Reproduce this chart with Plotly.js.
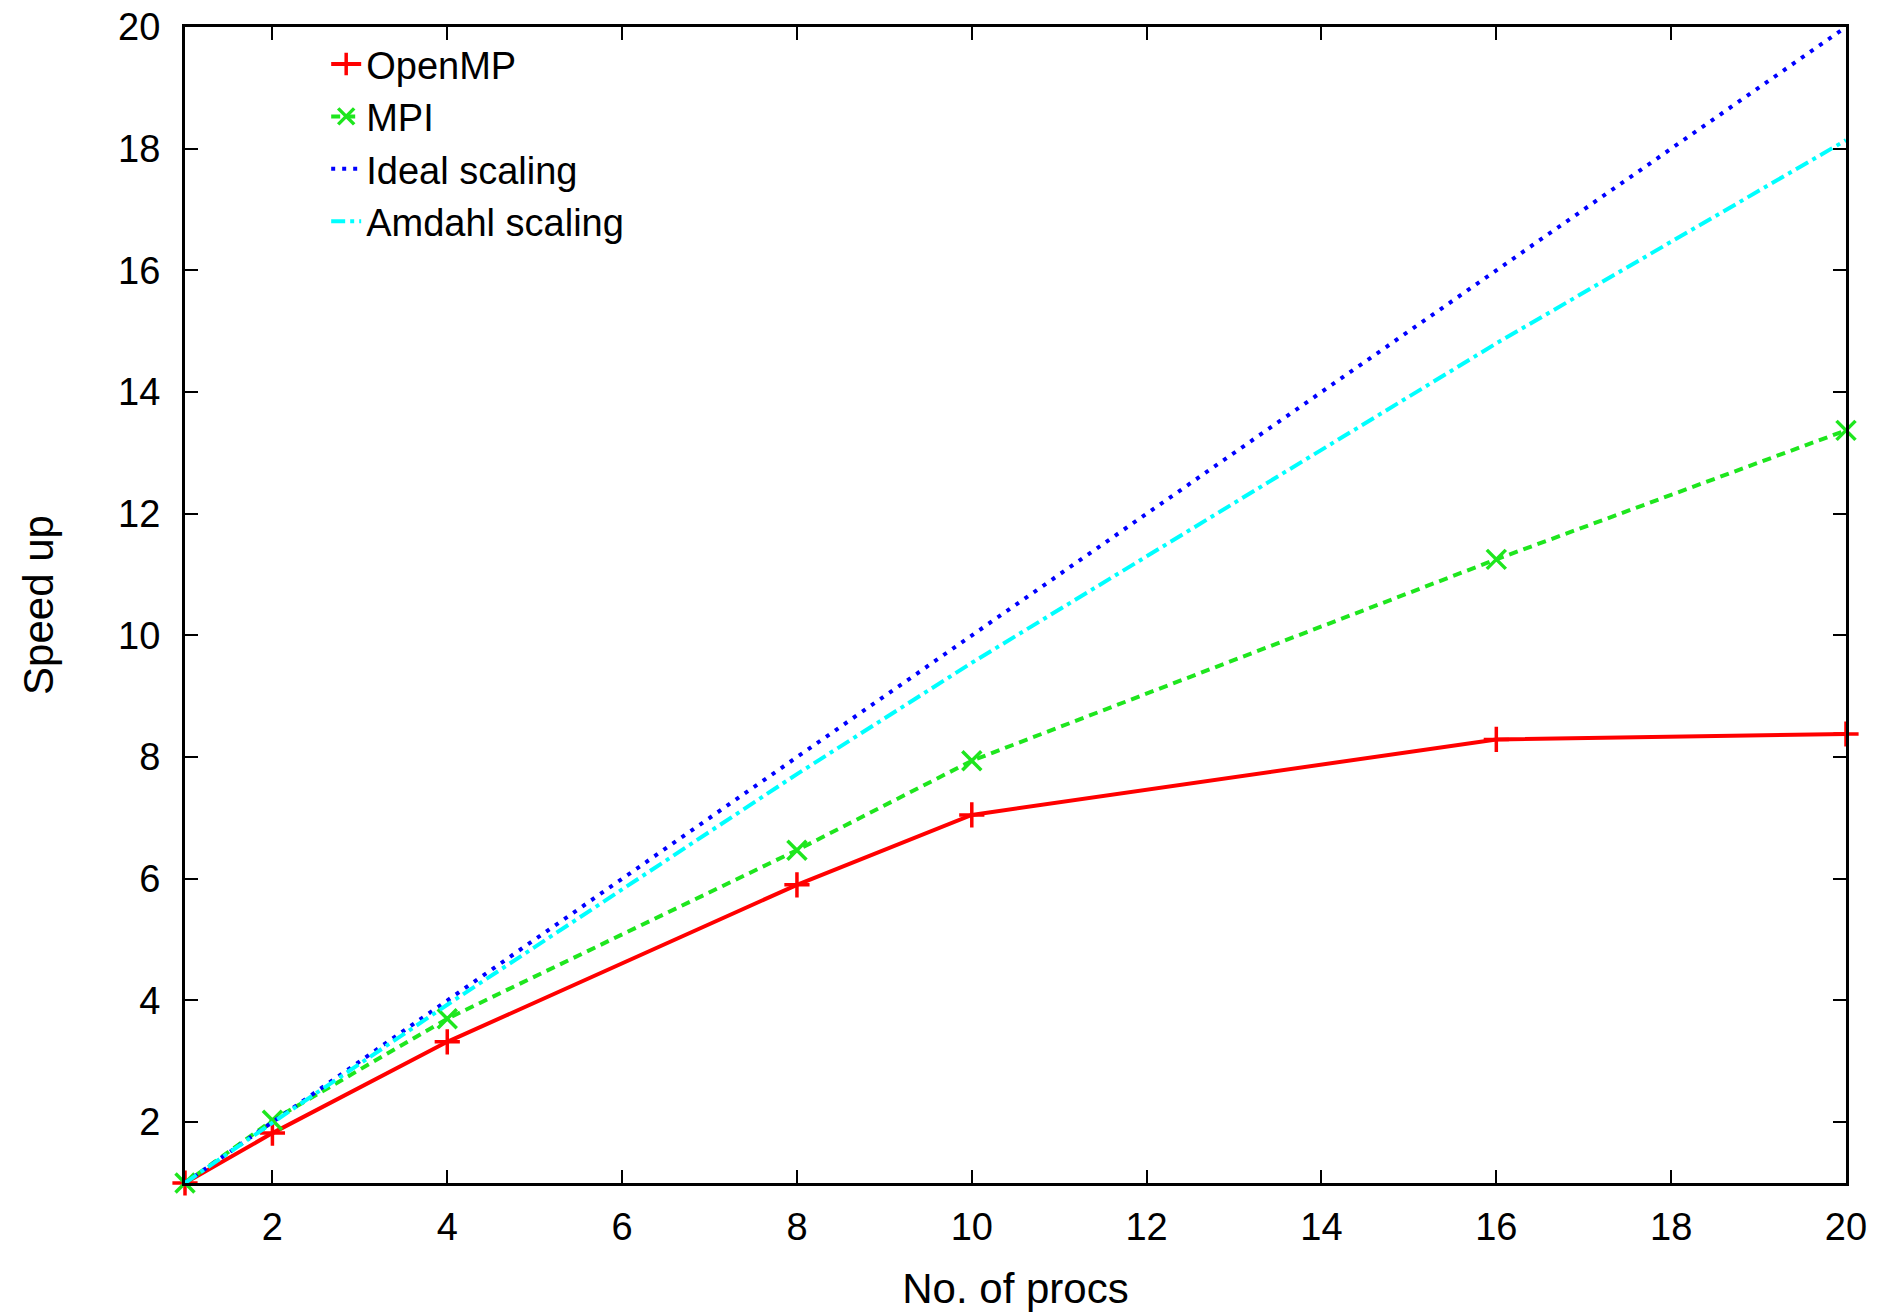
<!DOCTYPE html>
<html>
<head>
<meta charset="utf-8">
<script src="https://cdn.plot.ly/plotly-3.0.1.min.js"></script>
<style>
  html, body { margin: 0; padding: 0; background: #fff; }
  #chart { width: 1886px; height: 1312px; }
</style>
</head>
<body>
<div id="chart"></div>
<script>
// Data
const procs = [1, 2, 4, 8, 10, 16, 20];
const openmp = [1, 1.82, 3.32, 5.9, 7.05, 8.29, 8.38];
const mpi = [1, 2.03, 3.7, 6.47, 7.94, 11.25, 13.37];
const idealX = [1, 20];
const idealY = [1, 20];
const amdahl = [1, 1.99, 3.93, 7.72, 9.55, 14.8, 18.14];

const xTicks = [2, 4, 6, 8, 10, 12, 14, 16, 18, 20];
const yTicks = [2, 4, 6, 8, 10, 12, 14, 16, 18, 20];

const FONT = '"Liberation Sans", Arial, Helvetica, sans-serif';

const traces = [
  {
    x: procs, y: openmp, name: 'OpenMP', mode: 'lines+markers', type: 'scatter',
    line: { color: '#ff0000', width: 4 },
    marker: { symbol: 'cross-thin', size: 18, line: { color: '#ff0000', width: 3.5 } },
    cliponaxis: false
  },
  {
    x: procs, y: mpi, name: 'MPI', mode: 'lines+markers', type: 'scatter',
    line: { color: '#1ee61e', width: 4, dash: '9px,6px' },
    marker: { symbol: 'x-thin', size: 19, line: { color: '#1ee61e', width: 3.5 } },
    cliponaxis: false
  },
  {
    x: idealX, y: idealY, name: 'Ideal scaling', mode: 'lines', type: 'scatter',
    line: { color: '#0000ff', width: 4, dash: '4px,7px' }
  },
  {
    x: procs, y: amdahl, name: 'Amdahl scaling', mode: 'lines', type: 'scatter',
    line: { color: '#00ffff', width: 4, dash: '14px,5px,4px,5px' }
  }
];

const axisCommon = {
  showgrid: false, zeroline: false,
  showline: true, linecolor: '#000', linewidth: 3,
  mirror: 'allticks', ticks: 'inside', ticklen: 13, tickwidth: 2, tickcolor: '#000',
  tickfont: { family: FONT, size: 38, color: '#000' },
  tickmode: 'array'
};

const layout = {
  width: 1886, height: 1312,
  paper_bgcolor: '#fff', plot_bgcolor: '#fff',
  margin: { l: 185, r: 40, t: 27, b: 129, pad: 0 },
  font: { family: FONT, color: '#000' },
  showlegend: true,
  legend: {
    x: 0.085, y: 0.995, xanchor: 'left', yanchor: 'top',
    bgcolor: 'rgba(0,0,0,0)', borderwidth: 0,
    font: { family: FONT, size: 38, color: '#000' },
    tracegroupgap: 0
  },
  xaxis: Object.assign({}, axisCommon, {
    range: [1, 20], tickvals: xTicks, ticktext: xTicks.map(String),
    ticklabelstandoff: 8,
    title: { text: 'No. of procs', font: { family: FONT, size: 42, color: '#000' }, standoff: 29 }
  }),
  yaxis: Object.assign({}, axisCommon, {
    range: [1, 20], tickvals: yTicks, ticktext: yTicks.map(String),
    ticklabelstandoff: 14,
    title: { text: 'Speed up', font: { family: FONT, size: 42, color: '#000' }, standoff: 52 }
  })
};

Plotly.newPlot('chart', traces, layout, { displayModeBar: false, staticPlot: true });
</script>
</body>
</html>
